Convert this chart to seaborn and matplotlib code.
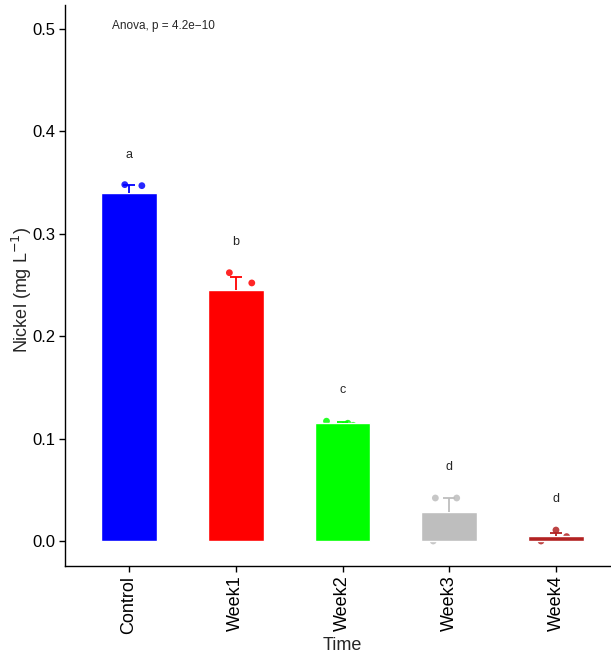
import numpy as np
import pandas as pd
import matplotlib
matplotlib.use("Agg")
import matplotlib.pyplot as plt
import seaborn as sns

# ---- data ----
groups = ["Control", "Week1", "Week2", "Week3", "Week4"]
control = [0.348, 0.347, 0.325]
week1 = [0.262, 0.252, 0.221]
week2 = [0.117, 0.115, 0.113]
week3 = [0.042, 0.042, 0.000]
week4 = [0.0107, 0.000, 0.0043]
letters = ["a", "b", "c", "d", "d"]
letter_y = [0.377, 0.292, 0.147, 0.072, 0.041]
anova_text = "Anova, p = 4.2e\u221210"

colors = ["#0000FF", "#FF0000", "#00FF00", "#BEBEBE", "#B22222"]
jitter = [[-0.04, 0.12, 0.05], [-0.06, 0.15, 0.0], [-0.15, 0.05, 0.1],
          [-0.13, 0.07, -0.15], [0.0, -0.14, 0.1]]

values = [control, week1, week2, week3, week4]
df = pd.DataFrame({"Time": np.repeat(groups, 3),
                   "Nickel": np.concatenate(values)})
summary = df.groupby("Time", sort=False)["Nickel"].agg(["mean", "std", "count"])
summary["se"] = summary["std"] / np.sqrt(summary["count"])

sns.set_style("white")
plt.rcParams["font.family"] = ["Liberation Sans", "DejaVu Sans"]

fig = plt.figure(figsize=(6.11, 6.57), dpi=100)
ax = fig.add_axes([65 / 611, (657 - 566) / 657, (620 - 65) / 611, (566 - 5) / 657])

sns.barplot(data=df, x="Time", y="Nickel", hue="Time", palette=colors,
            errorbar=None, width=0.52, saturation=1, legend=False, ax=ax,
            zorder=3)

cap = 0.055
for i, g in enumerate(groups):
    m = summary.loc[g, "mean"]
    se = summary.loc[g, "se"]
    ax.vlines(i, m, m + se, color=colors[i], linewidth=1.3, zorder=4)
    ax.hlines(m + se, i - cap, i + cap, color=colors[i], linewidth=1.3, zorder=4)
    xs = np.full(3, i) + np.array(jitter[i])
    ax.scatter(xs, values[i], s=24, color=colors[i], alpha=0.85,
               edgecolor="none", zorder=2)
    ax.text(i, letter_y[i], letters[i], ha="center", va="center", fontsize=9)

ax.text(-0.16, 0.503, anova_text, ha="left", va="center", fontsize=8.5)

ax.set_xlim(-0.6, 4.6)
ax.set_ylim(-0.0244, 0.5234)
ax.set_yticks([0.0, 0.1, 0.2, 0.3, 0.4, 0.5])
ax.set_yticklabels(["0.0", "0.1", "0.2", "0.3", "0.4", "0.5"], fontsize=12)
ax.set_xticks(range(5))
ax.set_xticklabels(groups, rotation=90, fontsize=13)
ax.set_xlabel("Time", fontsize=13, labelpad=2)
ax.set_ylabel("Nickel (mg L$^{-1}$)", fontsize=13, va="center")
ax.yaxis.set_label_coords((22 - 65) / 555, (566 - 290) / 561)

for s in ["top", "right"]:
    ax.spines[s].set_visible(False)
for s in ["left", "bottom"]:
    ax.spines[s].set_color("black")
    ax.spines[s].set_linewidth(1.0)
ax.tick_params(axis="both", direction="out", length=4, width=1,
               color="black", left=True, bottom=True, labelcolor="black",
               pad=3)
ax.grid(False)

fig.savefig("out.png", dpi=100)
